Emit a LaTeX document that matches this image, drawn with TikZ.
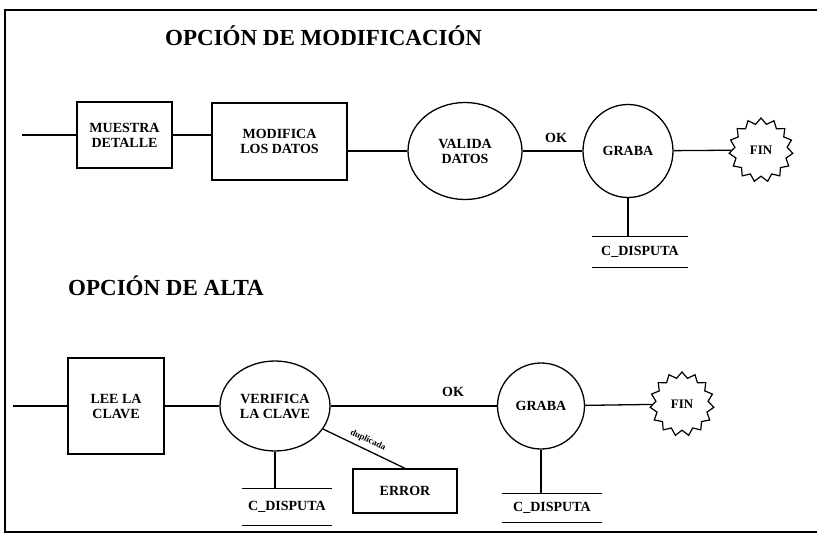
\documentclass[tikz,border=0pt]{standalone}
\usepackage{fontspec}
\setmainfont{Liberation Serif}
\usetikzlibrary{positioning}
\usetikzlibrary{shapes.geometric}
\tikzset{
  every node/.style={font=\bfseries\fontsize{14}{15}\selectfont, align=center},
  titulo/.style={font=\bfseries\fontsize{23}{24}\selectfont, anchor=base west, inner sep=0},
  linea/.style={line width=1.3pt},
  caja/.style={draw, line width=1.3pt, rectangle, inner sep=0},
  burbuja/.style={draw, line width=1.3pt, ellipse, inner sep=0},
  fin/.style={draw, line width=1.2pt, star, star points=15, star point ratio=1.22,
    inner sep=0, minimum size=64pt, font=\bfseries\fontsize{13}{14}\selectfont},
  archivo/.style={inner sep=0, minimum height=30pt}
}

\begin{document}
\begin{tikzpicture}[x=1pt, y=-1pt]
  \useasboundingbox (0,0) rectangle (817,535);
  \draw[line width=1.2pt] (5,10) rectangle (830,532);

  % opcion de modificacion
  \node[titulo] (tmod) at (165,46) {OPCIÓN DE MODIFICACIÓN};
  \coordinate (in1) at (22,135);
  \node[caja, minimum width=95pt, minimum height=66pt] (muestra) at (124.5,135) {MUESTRA\\DETALLE};
  \node[caja, minimum width=135pt, minimum height=77pt] (modifica) at (279.5,141.5) {MODIFICA\\LOS DATOS};
  \node[burbuja, minimum width=114pt, minimum height=97pt] (valida) at (465,151) {VALIDA\\DATOS};
  \node[burbuja, minimum width=90pt, minimum height=93pt] (graba1) at (628,151) {GRABA};
  \node[fin] (fin1) at (761,150) {FIN};
  \node[archivo, minimum width=95pt] (cd1) at (640,252) {C\_DISPUTA};
  \node (ok1) at (556,138) {OK};

  \draw[linea] (in1) -- (muestra);
  \draw[linea] (muestra) -- (muestra -| modifica.west);
  \draw[linea] (modifica.east |- valida) -- (valida);
  \draw[linea] (valida) -- (graba1);
  \draw[linea] (graba1) -- (fin1);
  \draw[linea] (graba1.south) -- (graba1.south |- cd1.north);
  \draw[linea] (cd1.north west) -- (cd1.north east);
  \draw[linea] (cd1.south west) -- (cd1.south east);

  % opcion de alta
  \node[titulo] (talta) at (68,295) {OPCIÓN DE ALTA};
  \coordinate (in2) at (13,406);
  \node[caja, minimum width=96pt, minimum height=96pt] (lee) at (116,406) {LEE LA\\CLAVE};
  \node[burbuja, minimum width=110pt, minimum height=90pt] (verifica) at (275,406) {VERIFICA\\LA CLAVE};
  \node[burbuja, minimum width=87pt, minimum height=86pt] (graba2) at (541,406) {GRABA};
  \node[fin] (fin2) at (682,404) {FIN};
  \node[caja, minimum width=104pt, minimum height=44pt] (error) at (405,491) {ERROR};
  \node[archivo, minimum width=90pt, minimum height=36pt] (cd2) at (287,507) {C\_DISPUTA};
  \node[archivo, minimum width=99pt, minimum height=29pt] (cd3) at (552,508) {C\_DISPUTA};
  \node (ok2) at (453,392) {OK};

  \draw[linea] (in2) -- (lee);
  \draw[linea] (lee) -- (verifica);
  \draw[linea] (verifica) -- (graba2);
  \draw[linea] (graba2) -- (fin2);
  \draw[linea] (verifica) -- (error.north)
    node[midway, above=1pt, sloped, font=\bfseries\fontsize{9}{10}\selectfont] {duplicada};
  \draw[linea] (verifica.south) -- (verifica.south |- cd2.north);
  \draw[linea] (graba2.south) -- (graba2.south |- cd3.north);
  \draw[linea] (cd2.north west) -- (cd2.north east);
  \draw[linea] (cd2.south west) -- (cd2.south east);
  \draw[linea] (cd3.north west) -- (cd3.north east);
  \draw[linea] (cd3.south west) -- (cd3.south east);
\end{tikzpicture}
\end{document}
